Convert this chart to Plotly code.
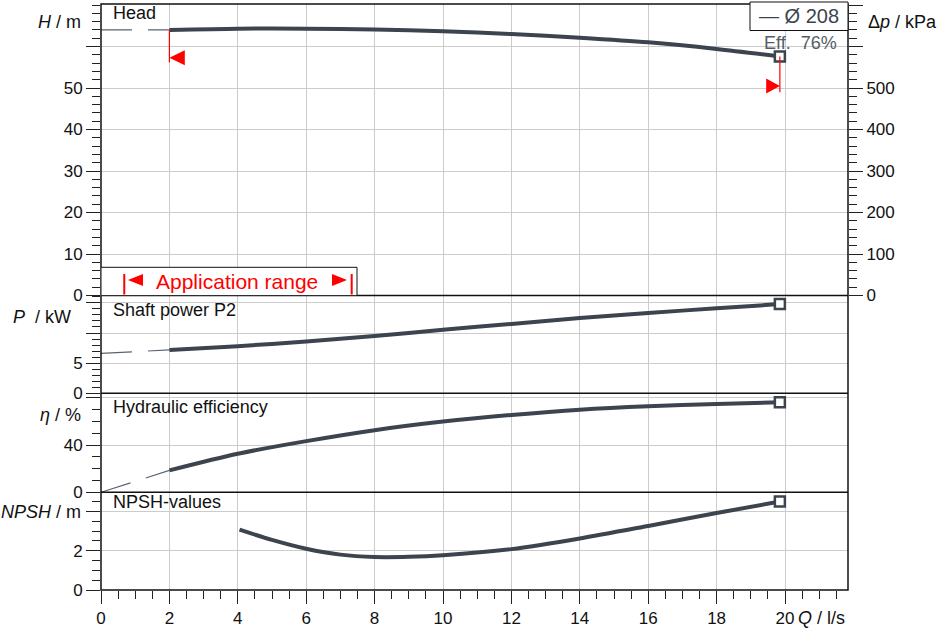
import plotly.graph_objects as go

# ---------------- data ----------------
q_main = [2, 4, 6, 8, 10, 12, 14, 16, 18, 19.85]
head_m = [64.0, 64.3, 64.3, 64.1, 63.7, 63.0, 62.1, 61.0, 59.4, 57.6]
power_kw = [7.19, 7.81, 8.6, 9.49, 10.54, 11.5, 12.47, 13.33, 14.09, 14.8]
eff_pct = [18.6, 32.7, 43.4, 52.7, 60.0, 65.6, 70.1, 73.0, 74.9, 76.3]

q_ext = [0, 2]
head_ext = [64.0, 64.0]
power_ext = [6.63, 7.19]
eff_ext = [0.0, 18.6]

q_npsh = [4.05, 5, 6, 7, 8, 9, 10, 12, 14, 16, 18, 19.85]
npsh_m = [3.07, 2.55, 2.10, 1.80, 1.68, 1.69, 1.77, 2.08, 2.62, 3.26, 3.92, 4.50]

x_ticks = [0, 2, 4, 6, 8, 10, 12, 14, 16, 18, 20]
head_ticks = [0, 10, 20, 30, 40, 50, 60]
head_labels = ["0", "10", "20", "30", "40", "50", ""]
kpa_ticks = [0, 100, 200, 300, 400, 500, 600, 700]
kpa_labels = ["0", "100", "200", "300", "400", "500", "", ""]
p_ticks = [0, 5, 10, 15]
p_labels = ["0", "5", "", ""]
eff_ticks = [0, 40, 80]
eff_labels = ["0", "40", ""]
npsh_ticks = [0, 2, 4]
npsh_labels = ["0", "2", ""]

legend_text = "— Ø 208"
eff_text = "Eff.\u00a0\u00a076%"
app_range = [0.68, 7.33]
duty_left_q = 2.0
duty_right_q = 19.85

# ---------------- geometry ----------------
W, H = 939, 632
L, R, T, B = 101, 91, 4, 42
PW, PH = W - L - R, H - T - B


def xp(px):
    return (px - L) / PW


def yp(py):
    return (H - B - py) / PH


b1, b2, b3 = 295.5, 393.3, 492.3
dom_head = [yp(b1), 1]
dom_p = [yp(b2), yp(b1)]
dom_eff = [yp(b3), yp(b2)]
dom_npsh = [0, yp(b3)]
head_max = (b1 - T) / 4.15
p_max = (b2 - b1) / 6.03
eff_max = (b3 - b2) / 1.179
npsh_max = (H - B - b3) / 19.65
XPU = 34.2  # px per l/s


def hx(px):
    return (px - L) / XPU


def hy(py):
    return (b1 - py) / 4.15


C = "#3c444e"
GRID = "#cccccc"
FONT = "Liberation Sans, Arial, sans-serif"

fig = go.Figure()


def add_curve(x, y, ya, x_ext=None, y_ext=None):
    if x_ext is not None:
        fig.add_trace(go.Scatter(x=x_ext, y=y_ext, yaxis=ya, mode="lines",
                                 line=dict(color="#5a6470", width=1.2, dash="31px,16px"),
                                 hoverinfo="skip", showlegend=False))
    fig.add_trace(go.Scatter(x=x, y=y, yaxis=ya, mode="lines",
                             line=dict(color=C, width=4, shape="spline", smoothing=0.8),
                             hoverinfo="skip", showlegend=False))
    fig.add_trace(go.Scatter(x=[x[-1]], y=[y[-1]], yaxis=ya, mode="markers",
                             marker=dict(symbol="square", size=10, color="white",
                                         line=dict(color=C, width=2.5)),
                             hoverinfo="skip", showlegend=False))


add_curve(q_main, head_m, "y", q_ext, head_ext)
add_curve(q_main, power_kw, "y2", q_ext, power_ext)
add_curve(q_main, eff_pct, "y3", q_ext, eff_ext)
add_curve(q_npsh, npsh_m, "y4")
fig.add_trace(go.Scatter(x=[0], y=[0], yaxis="y5", mode="markers", opacity=0,
                         hoverinfo="skip", showlegend=False))

tickfont = dict(family=FONT, size=17, color="#111111")


def yax(dom, rng, tv, tt, mdt, grid=True):
    return dict(domain=dom, range=rng, anchor="x", tickmode="array", tickvals=tv,
                ticktext=tt, ticks="outside", ticklen=14, tickwidth=1, tickcolor="#222",
                showgrid=grid, gridcolor=GRID, gridwidth=1, zeroline=False,
                showline=False, tickfont=tickfont, fixedrange=True,
                minor=dict(tickmode="linear", tick0=0, dtick=mdt, ticks="outside",
                           ticklen=8, tickcolor="#222", showgrid=False))


fig.update_layout(
    width=W, height=H, margin=dict(l=L, r=R, t=T, b=B),
    paper_bgcolor="white", plot_bgcolor="white", showlegend=False,
    font=dict(family=FONT, color="#111111"),
    xaxis=dict(range=[0, PW / XPU], anchor="y4", tickmode="array", tickvals=x_ticks,
               ticks="outside", ticklen=13, tickcolor="#222", showgrid=True,
               gridcolor=GRID, zeroline=False, showline=False, tickfont=tickfont,
               fixedrange=True,
               minor=dict(tickmode="linear", tick0=0, dtick=0.5, ticks="outside",
                          ticklen=8, tickcolor="#222", showgrid=False)),
    yaxis=yax(dom_head, [0, head_max], head_ticks, head_labels, 2),
    yaxis2=yax(dom_p, [0, p_max], p_ticks, p_labels, 1),
    yaxis3=yax(dom_eff, [0, eff_max], eff_ticks, eff_labels, 10),
    yaxis4=yax(dom_npsh, [0, npsh_max], npsh_ticks, npsh_labels, 0.5),
    yaxis5=dict(overlaying="y", side="right", anchor="x", range=[0, head_max * 10],
                tickmode="array", tickvals=kpa_ticks, ticktext=kpa_labels,
                ticks="outside", ticklen=14, tickcolor="#222", showgrid=False,
                zeroline=False, showline=False, tickfont=tickfont, fixedrange=True,
                minor=dict(tickmode="linear", tick0=0, dtick=20, ticks="outside",
                           ticklen=8, tickcolor="#222", showgrid=False)),
)

shapes = []
# frame and panel separators
shapes.append(dict(type="rect", xref="paper", yref="paper", x0=0, x1=1, y0=0, y1=1,
                   line=dict(color="#111", width=1.5), layer="above"))
for by in (b1, b2, b3):
    shapes.append(dict(type="line", xref="paper", yref="paper", x0=0, x1=1,
                       y0=yp(by), y1=yp(by), line=dict(color="#111", width=1.5), layer="above"))
# application range box
shapes.append(dict(type="rect", xref="x", yref="y", x0=0, x1=hx(357), y0=0, y1=hy(267.3),
                   fillcolor="white", line=dict(color="#111", width=1), layer="above"))
for xv in app_range:
    shapes.append(dict(type="line", xref="x", yref="y", x0=xv, x1=xv, y0=hy(294.5), y1=hy(274),
                       line=dict(color="red", width=2), layer="above"))
# small triangles of the application range label
tl0, tl1 = hx(128), hx(143)
tr0, tr1 = hx(332), hx(347)
tyc, tyh = hy(280), 6 / 4.15
shapes.append(dict(type="path", xref="x", yref="y", layer="above",
                   path=f"M {tl0},{tyc} L {tl1},{tyc+tyh} L {tl1},{tyc-tyh} Z",
                   fillcolor="red", line=dict(color="red", width=0)))
shapes.append(dict(type="path", xref="x", yref="y", layer="above",
                   path=f"M {tr1},{tyc} L {tr0},{tyc+tyh} L {tr0},{tyc-tyh} Z",
                   fillcolor="red", line=dict(color="red", width=0)))
# duty-range markers
shapes.append(dict(type="line", xref="x", yref="y", x0=duty_left_q, x1=duty_left_q,
                   y0=56.2, y1=64.0, line=dict(color="red", width=1.2)))
shapes.append(dict(type="path", xref="x", yref="y",
                   path=f"M {duty_left_q},57.3 L {duty_left_q+0.45},59.1 L {duty_left_q+0.45},55.5 Z",
                   fillcolor="red", line=dict(color="red", width=0)))
shapes.append(dict(type="line", xref="x", yref="y", x0=duty_right_q, x1=duty_right_q,
                   y0=49.0, y1=57.6, line=dict(color="red", width=1.2)))
shapes.append(dict(type="path", xref="x", yref="y",
                   path=f"M {duty_right_q},50.5 L {duty_right_q-0.4},52.3 L {duty_right_q-0.4},48.7 Z",
                   fillcolor="red", line=dict(color="red", width=0)))
# legend box
shapes.append(dict(type="rect", xref="paper", yref="paper", x0=xp(750), x1=1,
                   y0=yp(30.5), y1=yp(2), fillcolor="white",
                   line=dict(color="#111", width=1), layer="above"))
fig.update_layout(shapes=shapes)

ann = []


def text(t, x, y, xa="left", size=18, color="#111111"):
    ann.append(dict(text=t, xref="paper", yref="paper", x=xp(x), y=yp(y),
                    xanchor=xa, yanchor="middle", showarrow=False,
                    font=dict(family=FONT, size=size, color=color)))


# axis titles
text("<i>H</i> / m", 83, 22, "right")
text("<i>P</i>  / kW", 73, 317, "right")
text("<i>η</i> / %", 83, 415, "right")
text("<i>NPSH</i> / m", 83, 512, "right")
text("Δ<i>p</i> / kPa", 866, 22, "left")
text("<i>Q</i> / l/s", 796, 618, "left")
# panel labels
text("Head", 111, 13)
text("Shaft power P2", 111, 310)
text("Hydraulic efficiency", 111, 407)
text("NPSH-values", 111, 502)
# legend
text(legend_text, 799, 16, "center", size=20, color=C)
text(eff_text, 800, 43, "center", size=18, color="#555d66")
# application range
ann.append(dict(text="Application range", xref="x", yref="y", x=hx(237), y=hy(281),
                xanchor="center", yanchor="middle", showarrow=False,
                font=dict(family=FONT, size=21, color="red")))
fig.update_layout(annotations=ann)

fig.write_html("out.html", config={"displayModeBar": False, "staticPlot": True},
               post_script="document.body.style.margin='0';")
